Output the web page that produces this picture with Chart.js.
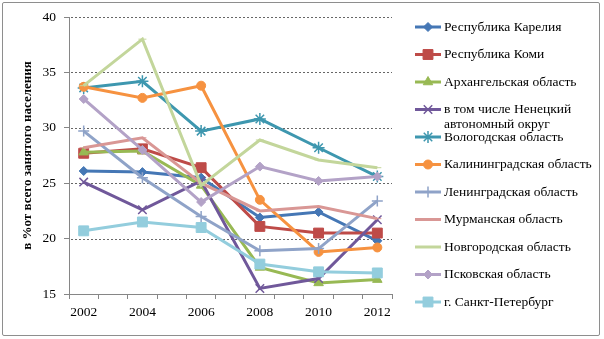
<!DOCTYPE html>
<html>
<head>
<meta charset="utf-8">
<script src="https://cdn.jsdelivr.net/npm/chart.js@4/dist/chart.umd.min.js"></script>
<style>
  html, body { margin: 0; padding: 0; background: #fff; }
  #wrap { position: relative; width: 604px; height: 339px; }
  #frame { position: absolute; left: 2px; top: 2px; width: 596px; height: 332px; border: 1px solid #8e8e8e; border-radius: 2px; }
  canvas { position: absolute; left: 0; top: 0; }
</style>
</head>
<body>
<div id="wrap">
  <div id="frame"></div>
  <canvas id="chart" width="604" height="339"></canvas>
</div>
<script>
// ======= DONNÉES =======
const axisYears = ['2002', '2003', '2004', '2005', '2006', '2007', '2008', '2009', '2010', '2011', '2012'];
const pointYears = ['2002', '2004', '2006', '2008', '2010', '2012'];
const yTicks = [15, 20, 25, 30, 35, 40];

const seriesNames = [
  'Республика Карелия',
  'Республика Коми',
  'Архангельская область',
  'в том числе Ненецкий автономный округ',
  'Вологодская область',
  'Калининградская область',
  'Ленинградская область',
  'Мурманская область',
  'Новгородская область',
  'Псковская область',
  'г. Санкт-Петербург'
];

const karelia     = [26.1, 26.0, 25.5, 21.9, 22.4, 19.8];
const komi        = [27.7, 28.1, 26.4, 21.1, 20.5, 20.5];
const arkhangelsk = [27.8, 27.9, 24.8, 17.4, 16.0, 16.3];
const nenets      = [25.1, 22.6, 25.2, 15.5, 16.4, 21.7];
const vologda     = [33.6, 34.2, 29.7, 30.8, 28.2, 25.6];
const kaliningrad = [33.7, 32.7, 33.8, 23.5, 18.8, 19.2];
const leningrad   = [29.7, 25.5, 22.0, 18.9, 19.1, 23.4];
const murmansk    = [28.2, 29.1, 25.0, 22.5, 22.9, 21.8];
const novgorod    = [33.8, 38.0, 24.8, 28.9, 27.1, 26.4];
const pskov       = [32.6, 28.0, 23.3, 26.5, 25.2, 25.6];
const spb         = [20.7, 21.5, 21.0, 17.7, 17.0, 16.9];

const seriesValues = [karelia, komi, arkhangelsk, nenets, vologda, kaliningrad, leningrad, murmansk, novgorod, pskov, spb];
const seriesColors = ['#4577B5', '#BE4B48', '#98B954', '#70589A', '#3E97AF', '#F69240', '#8FA3C8', '#D99795', '#C3D69B', '#B3A2C7', '#93CDDD'];
const seriesMarkers = ['rectRot', 'rect', 'triangle', 'crossRot', 'star', 'circle', 'cross', 'line', 'line', 'rectRot', 'rect'];
const markerSizes = [4.5, 7, 5.5, 6, 6, 4.5, 5.5, 4, 4, 4.5, 7];

const serif = 'Liberation Serif, "Times New Roman", serif';

// ======= LÉGENDE À DROITE =======
const sideLegend = {
  id: 'sideLegend',
  afterDraw(chart) {
    const ctx = chart.ctx;
    ctx.save();
    ctx.font = '13.5px ' + serif;
    ctx.textBaseline = 'middle';
    chart.data.datasets.forEach((ds, i) => {
      const y = 27 + i * 27.5;
      ctx.setLineDash([]);
      ctx.strokeStyle = ds.borderColor;
      ctx.fillStyle = ds.borderColor;
      ctx.lineWidth = 3;
      ctx.beginPath();
      ctx.moveTo(415, y);
      ctx.lineTo(441, y);
      ctx.stroke();
      ctx.lineWidth = ds.pointBorderWidth;
      Chart.helpers.drawPoint(ctx, {
        pointStyle: ds.pointStyle,
        radius: ds.pointRadius,
        borderWidth: ds.pointBorderWidth,
        rotation: 0
      }, 428, y);

      // retour à la ligne comme Excel
      const words = ds.label.split(' ');
      const lines = [];
      let cur = '';
      words.forEach(w => {
        const test = cur ? cur + ' ' + w : w;
        if (ctx.measureText(test).width > 154 && cur) {
          lines.push(cur);
          cur = w;
        } else {
          cur = test;
        }
      });
      lines.push(cur);
      ctx.fillStyle = '#000';
      lines.forEach((l, k) => ctx.fillText(l, 444, y + k * 15));
    });
    ctx.restore();
  }
};

// ======= LIGNES DE GRILLE POINTILLÉES =======
const dottedGrid = {
  id: 'dottedGrid',
  beforeDatasetsDraw(chart) {
    const ctx = chart.ctx;
    const yScale = chart.scales.y;
    const area = chart.chartArea;
    ctx.save();
    ctx.strokeStyle = '#666666';
    ctx.lineWidth = 1;
    ctx.setLineDash([2, 2]);
    yTicks.slice(1).forEach(v => {
      const y = Math.round(yScale.getPixelForValue(v)) + 0.5;
      ctx.beginPath();
      ctx.moveTo(area.left + 2, y);
      ctx.lineTo(area.right, y);
      ctx.stroke();
    });
    ctx.restore();
  }
};

// ======= GRAPHIQUE =======
const datasets = seriesNames.map((name, i) => ({
  label: name,
  data: pointYears.map((yr, k) => ({ x: yr, y: seriesValues[i][k] })),
  borderColor: seriesColors[i],
  backgroundColor: seriesColors[i],
  pointBackgroundColor: seriesColors[i],
  pointBorderColor: seriesColors[i],
  pointStyle: seriesMarkers[i],
  pointRadius: markerSizes[i],
  pointBorderWidth: (seriesMarkers[i] === 'cross' || seriesMarkers[i] === 'crossRot' || seriesMarkers[i] === 'star') ? 1.5 : 1,
  borderWidth: 3,
  tension: 0,
  order: seriesNames.length - i
}));

new Chart(document.getElementById('chart'), {
  type: 'line',
  data: { labels: axisYears, datasets: datasets },
  options: {
    responsive: false,
    animation: false,
    layout: { padding: { top: 17, right: 212, left: 0, bottom: 0 } },
    plugins: {
      legend: { display: false },
      tooltip: { enabled: false }
    },
    scales: {
      x: {
        type: 'category',
        offset: true,
        grid: { offset: true, drawOnChartArea: false, tickLength: 5, color: '#868686' },
        border: { color: '#868686', width: 1 },
        ticks: {
          autoSkip: false,
          maxRotation: 0,
          padding: 5,
          color: '#000',
          font: { family: serif, size: 13.5 },
          callback: function (v) {
            const l = this.getLabelForValue(v);
            return pointYears.includes(l) ? l : '';
          }
        },
        afterFit(s) { s.height = 45; }
      },
      y: {
        min: 15,
        max: 40,
        afterBuildTicks(s) { s.ticks = yTicks.map(v => ({ value: v })); },
        grid: { drawOnChartArea: false, color: '#868686', lineWidth: 1, tickLength: 5 },
        border: { color: '#868686', width: 1 },
        ticks: { padding: 8, color: '#000', font: { family: serif, size: 13.5 } },
        title: {
          display: true,
          text: 'в %от всего занятого населения',
          color: '#000',
          font: { family: serif, size: 13, weight: 'bold' },
          padding: { top: 20, bottom: 0 }
        },
        afterFit(s) { s.width = 69; }
      }
    }
  },
  plugins: [dottedGrid, sideLegend]
});
</script>
</body>
</html>
